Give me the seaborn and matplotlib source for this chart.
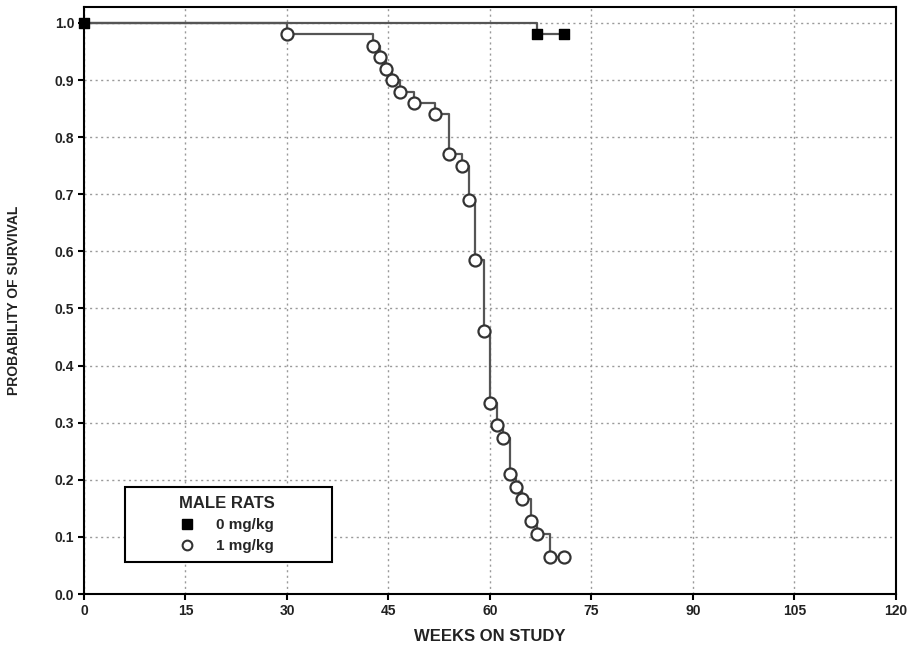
import matplotlib
matplotlib.use("Agg")
import matplotlib.pyplot as plt
import seaborn as sns
import pandas as pd
from matplotlib.lines import Line2D
from matplotlib.patches import Rectangle

# ---- data ----
ctrl_weeks = [0, 67, 71]
ctrl_surv = [1.0, 0.98, 0.98]

trt_weeks = [0, 30, 42.7, 43.7, 44.6, 45.5, 46.7, 48.7, 51.8, 53.9, 55.8, 56.9,
             57.8, 59.1, 60.0, 61.0, 61.9, 62.9, 63.8, 64.8, 66.0, 66.9, 68.8, 70.9]
trt_surv = [1.0, 0.98, 0.96, 0.94, 0.92, 0.90, 0.88, 0.86, 0.84, 0.77, 0.75, 0.69,
            0.585, 0.46, 0.335, 0.296, 0.273, 0.21, 0.187, 0.166, 0.128, 0.105, 0.065, 0.065]

x_ticks = [0, 15, 30, 45, 60, 75, 90, 105, 120]
y_ticks = [0.0, 0.1, 0.2, 0.3, 0.4, 0.5, 0.6, 0.7, 0.8, 0.9, 1.0]
legend_title = "MALE RATS"
labels = ["0 mg/kg", "1 mg/kg"]

ctrl = pd.DataFrame({"week": ctrl_weeks, "surv": ctrl_surv})
trt = pd.DataFrame({"week": trt_weeks, "surv": trt_surv})

sns.set_style("white")
FONT = ["Liberation Sans Narrow", "Liberation Sans", "DejaVu Sans"]
plt.rcParams["font.family"] = FONT

fig = plt.figure(figsize=(9.12, 6.52), dpi=100)
ax = fig.add_axes([84 / 912, 1 - 594 / 652, (896 - 84) / 912, (594 - 7) / 652])

sns.lineplot(data=ctrl, x="week", y="surv", drawstyle="steps-post", color="#555555",
             lw=1.6, ax=ax, estimator=None, sort=False)
sns.lineplot(data=trt, x="week", y="surv", drawstyle="steps-post", color="#555555",
             lw=1.6, ax=ax, estimator=None, sort=False)
sns.scatterplot(data=trt.iloc[1:], x="week", y="surv", marker="o", s=75,
                facecolor="white", edgecolor="#333333", linewidth=1.6, ax=ax, zorder=4)
sns.scatterplot(data=ctrl, x="week", y="surv", marker="s", s=60,
                color="black", edgecolor="black", linewidth=1, ax=ax, zorder=5, clip_on=False)

ax.set_xlim(0, 120)
ax.set_ylim(0, 1.028)
ax.set_xticks(x_ticks)
ax.set_xticklabels([str(v) for v in x_ticks])
ax.set_yticks(y_ticks)
ax.set_yticklabels([f"{v:.1f}" for v in y_ticks])
ax.tick_params(axis="both", direction="out", length=4, width=1.5, color="black",
               labelsize=10, pad=3, left=True, bottom=True)
for lab in ax.get_xticklabels() + ax.get_yticklabels():
    lab.set_fontweight("bold")
    lab.set_color("#222222")

ax.grid(True, linestyle=(0, (1.5, 2.5)), color="#9a9a9a", linewidth=1)
for sp in ax.spines.values():
    sp.set_visible(True)
    sp.set_color("black")
    sp.set_linewidth(1.5)

ax.set_xlabel("WEEKS ON STUDY", fontsize=12, fontweight="bold", color="#222222", labelpad=8)
ax.set_ylabel("PROBABILITY OF SURVIVAL", fontsize=10, fontweight="bold", color="#222222", labelpad=24)

# legend box (frame drawn separately so entries can be centred)
bx0, bx1, by_top, by_bot = 125, 332, 487, 562
fx = lambda px: (px - 84) / 812
fy = lambda py: (594 - py) / 587
ax.add_patch(Rectangle((fx(bx0), fy(by_bot)), fx(bx1) - fx(bx0), fy(by_top) - fy(by_bot),
                       transform=ax.transAxes, facecolor="white", edgecolor="black",
                       linewidth=1.5, zorder=6))
handles = [
    Line2D([], [], marker="s", linestyle="none", color="black", markersize=7),
    Line2D([], [], marker="o", linestyle="none", markerfacecolor="white",
           markeredgecolor="#333333", markeredgewidth=1.5, markersize=7),
]
leg = ax.legend(handles, labels, title=legend_title, loc="center",
                bbox_to_anchor=(fx((bx0 + bx1) / 2 - 2), fy((by_top + by_bot) / 2)),
                frameon=False, prop={"weight": "bold", "size": 11}, handletextpad=1.4,
                borderpad=0.2, labelspacing=0.45, handlelength=1.0)
leg.set_zorder(7)
leg.get_title().set_fontweight("bold")
leg.get_title().set_fontsize(12)
leg._legend_box.align = "center"

fig.savefig("out.png", dpi=100)
